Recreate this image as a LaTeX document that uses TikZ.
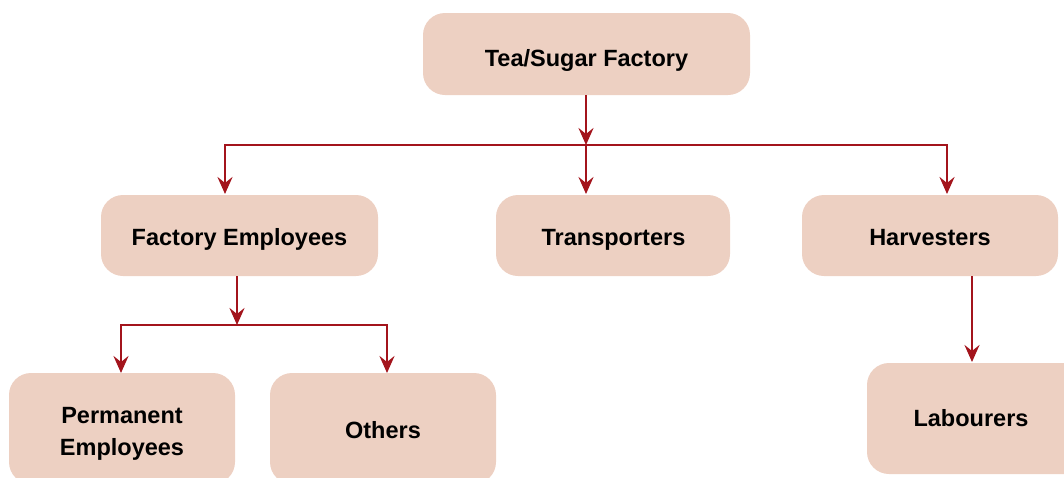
\documentclass[tikz,border=0pt]{standalone}
\usepackage{fontspec}
\setmainfont{Liberation Sans}
\usetikzlibrary{arrows.meta}
\definecolor{boxfill}{HTML}{EDD0C2}
\definecolor{linkred}{HTML}{A3141C}
\begin{document}
\begin{tikzpicture}[x=1pt,y=-1pt,
  box/.style={fill=boxfill,rounded corners=22pt},
  label/.style={inner sep=0pt,anchor=base,font=\bfseries\fontsize{23.5}{32}\selectfont,align=center},
  link/.style={draw=linkred,line width=2.8pt,
    -{Stealth[length=17pt,width=15pt,inset=6pt]}},
  bar/.style={draw=linkred,line width=2.8pt}]
\useasboundingbox (0,0) rectangle (1064,477);
\begin{scope}
\clip (0,0) rectangle (1064,477);
% boxes drawn as rectangles with text nodes on their baselines
\path[box] (423,13) rectangle (750,95);
\node[label] (top) at (586.5,66) {Tea/Sugar Factory};
\path[box] (101,195) rectangle (378,276);
\node[label] (fe) at (239.5,245) {Factory Employees};
\path[box] (496,195) rectangle (730,276);
\node[label] (tr) at (613.5,245) {Transporters};
\path[box] (802,195) rectangle (1058,276);
\node[label] (hv) at (930,245) {Harvesters};
\path[box] (9,373) rectangle (235,484);
\node[label] (pe) at (122,455) {Permanent\\Employees};
\path[box] (270,373) rectangle (496,484);
\node[label] (ot) at (383,438) {Others};
\path[box] (867,363) rectangle (1090,474);
\node[label] (lb) at (971,426) {Labourers};
\end{scope}
% anchor points of the connectors
\coordinate (topb) at (586,95);
\coordinate (j1) at (586,145);
\coordinate (j1l) at (225,145);
\coordinate (j1r) at (947,145);
\coordinate (fet) at (225,194);
\coordinate (trt) at (586,194);
\coordinate (hvt) at (947,194);
\coordinate (feb) at (237,276);
\coordinate (j2) at (237,325);
\coordinate (j2l) at (121,325);
\coordinate (j2r) at (387,325);
\coordinate (pet) at (121,373);
\coordinate (ott) at (387,373);
\coordinate (hvb) at (972,276);
\coordinate (lbt) at (972,362);
% connectors
\draw[link] (topb) -- (j1);
\draw[bar,line cap=rect] (j1l) -- (j1r);
\draw[link] (j1l) -- (fet);
\draw[link] (j1) -- (trt);
\draw[link] (j1r) -- (hvt);
\draw[link] (feb) -- (j2);
\draw[bar,line cap=rect] (j2l) -- (j2r);
\draw[link] (j2l) -- (pet);
\draw[link] (j2r) -- (ott);
\draw[link] (hvb) -- (lbt);
\end{tikzpicture}
\end{document}
